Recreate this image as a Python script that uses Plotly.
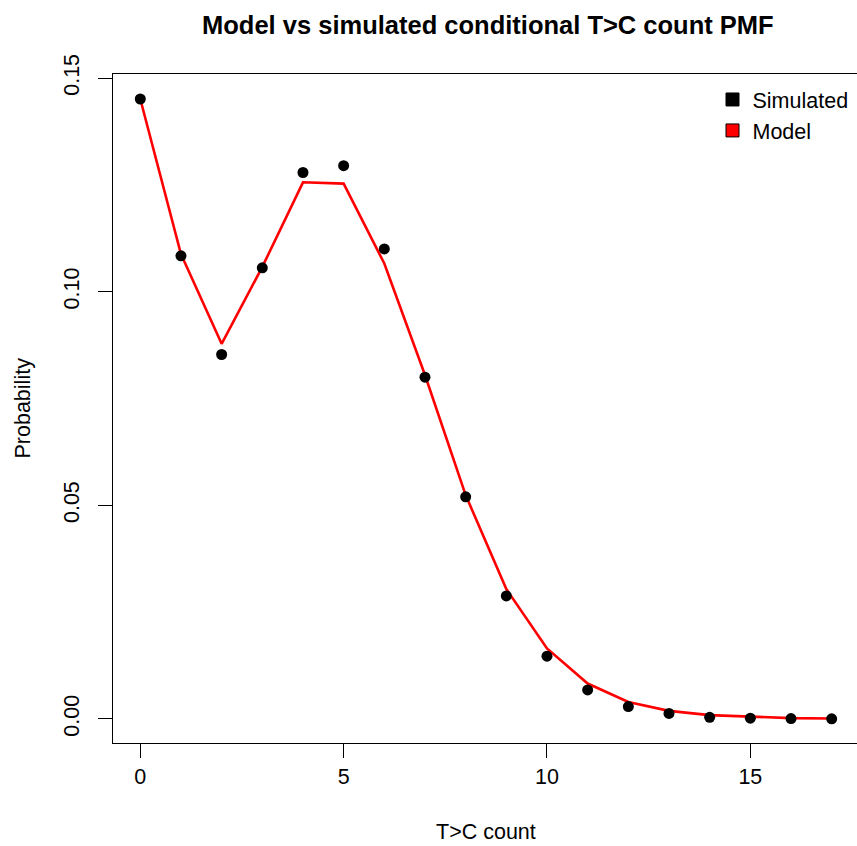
import plotly.graph_objects as go

counts = list(range(18))
simulated = [0.1451, 0.1084, 0.0853, 0.1056, 0.1279, 0.1295, 0.1100, 0.0800, 0.0520,
             0.0288, 0.0147, 0.0068, 0.0029, 0.0013, 0.0004, 0.0002, 0.0001, 0.00003]
model = [0.1451, 0.1088, 0.0878, 0.1058, 0.1256, 0.1253, 0.1066, 0.0805, 0.0524,
         0.0304, 0.0165, 0.0083, 0.0040, 0.0019, 0.0009, 0.0005, 0.0002, 0.0001]
x_ticks = [0, 5, 10, 15]
y_ticks = [0.00, 0.05, 0.10, 0.15]
y_tick_labels = ["0.00", "0.05", "0.10", "0.15"]

FONT = "Liberation Sans, Arial, Helvetica, sans-serif"
FS = 21.5

fig = go.Figure()
fig.add_trace(go.Scatter(x=counts, y=model, mode="lines",
                         line=dict(color="#ff0000", width=2.6), showlegend=False))
fig.add_trace(go.Scatter(x=counts, y=simulated, mode="markers",
                         marker=dict(color="black", size=11), showlegend=False))
# legend entries
fig.add_trace(go.Scatter(x=[None], y=[None], mode="markers", name="Simulated",
                         marker=dict(symbol="square", size=13, color="black",
                                     line=dict(color="black", width=1))))
fig.add_trace(go.Scatter(x=[None], y=[None], mode="markers", name="Model",
                         marker=dict(symbol="square", size=13, color="#ff0000",
                                     line=dict(color="black", width=1))))

FIG_W = 866
L = 113
PLOT_W = float(FIG_W - L)
PLOT_H = 846 - 74 - 103
leg_x = (712.5 - L) / PLOT_W

fig.update_layout(
    width=FIG_W, height=846,
    margin=dict(l=L, r=0, t=74, b=103),
    paper_bgcolor="white", plot_bgcolor="white",
    font=dict(family=FONT, size=FS, color="black"),
    showlegend=True,
    legend=dict(x=leg_x, y=1 - 5 / PLOT_H, xanchor="left", yanchor="top",
                bgcolor="rgba(0,0,0,0)", font=dict(size=FS), itemwidth=30,
                tracegroupgap=0),
    xaxis=dict(range=[-0.671, -0.671 + PLOT_W / 40.67], tickmode="array", tickvals=x_ticks,
               ticks="outside", ticklen=14, tickwidth=1.2, tickcolor="black",
               showline=True, linecolor="black", linewidth=1.2, mirror=True,
               showgrid=False, zeroline=False, tickfont=dict(size=FS),
               ticklabelstandoff=0),
    yaxis=dict(range=[-0.00562, 0.15095], tickmode="array", tickvals=y_ticks,
               ticktext=y_tick_labels, tickangle=-90,
               ticks="outside", ticklen=14, tickwidth=1.2, tickcolor="black",
               showline=True, linecolor="black", linewidth=1.2,
               showgrid=False, zeroline=False, tickfont=dict(size=FS),
               ticklabelstandoff=10),
    annotations=[
        dict(text="<b>Model vs simulated conditional T>C count PMF</b>", xref="paper", yref="paper",
             x=(488 - L) / PLOT_W, y=1, yshift=49, xanchor="center", yanchor="middle",
             showarrow=False, font=dict(size=25.5)),
        dict(text="T>C count", xref="paper", yref="paper", x=(486 - L) / PLOT_W, y=0, yshift=-89,
             xanchor="center", yanchor="middle", showarrow=False, font=dict(size=FS)),
        dict(text="Probability", xref="paper", yref="paper", x=0, xshift=-91, y=0.5,
             xanchor="center", yanchor="middle", showarrow=False, textangle=-90,
             font=dict(size=FS)),
    ],
)

fig.write_html(
    "out.html",
    config={"displayModeBar": False},
    post_script="document.body.style.margin='0';",
)
